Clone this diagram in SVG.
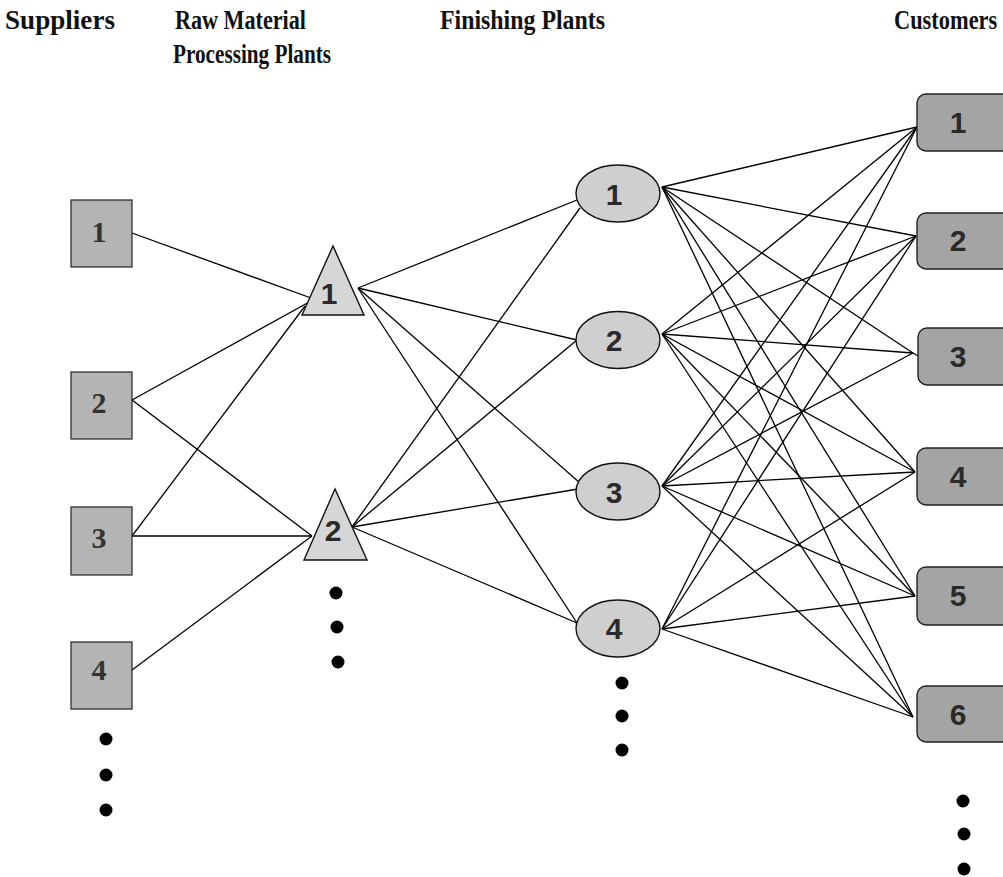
<svg xmlns="http://www.w3.org/2000/svg" width="1003" height="877" viewBox="0 0 1003 877">
<style>
.hdr{font-family:"Liberation Serif","Times New Roman",serif;font-weight:bold;font-size:28px;fill:#111}
.sq{fill:#b4b4b4;stroke:#222;stroke-width:1.2}
.tri{fill:#d6d6d6;stroke:#111;stroke-width:1.4}
.ell{fill:#cfcfcf;stroke:#111;stroke-width:1.4}
.cus{fill:#a4a4a4;stroke:#222;stroke-width:1.4}
.ns{font-family:"Liberation Serif","Times New Roman",serif;font-weight:bold;font-size:30px;fill:#333;text-anchor:middle}
.na{font-family:"Liberation Sans",Arial,sans-serif;font-weight:bold;font-size:30px;fill:#2a2a2a;text-anchor:middle}
.dot{fill:#000}
#connectors line{stroke:#000;stroke-width:1.3}
</style>
<rect width="1003" height="877" fill="#fff"/>
<g id="headers">
<text class="hdr" x="5" y="29" textLength="110" lengthAdjust="spacingAndGlyphs">Suppliers</text>
<text class="hdr" x="175" y="29" textLength="131" lengthAdjust="spacingAndGlyphs">Raw Material</text>
<text class="hdr" x="173" y="63" textLength="158" lengthAdjust="spacingAndGlyphs">Processing Plants</text>
<text class="hdr" x="440" y="29" textLength="165" lengthAdjust="spacingAndGlyphs">Finishing Plants</text>
<text class="hdr" transform="translate(894,29) scale(0.8,1)" x="0" y="0">Customers</text>
</g>
<g id="connectors">
<line x1="132" y1="233" x2="311" y2="298"/>
<line x1="132" y1="400" x2="311" y2="301"/>
<line x1="132" y1="400" x2="312" y2="536"/>
<line x1="132" y1="536" x2="305" y2="306"/>
<line x1="132" y1="536" x2="312" y2="536"/>
<line x1="132" y1="670" x2="312" y2="536"/>
<line x1="358" y1="288" x2="577" y2="200"/>
<line x1="358" y1="288" x2="577" y2="340"/>
<line x1="358" y1="288" x2="580" y2="483"/>
<line x1="358" y1="288" x2="577" y2="623"/>
<line x1="352" y1="527" x2="580" y2="208"/>
<line x1="352" y1="527" x2="577" y2="340"/>
<line x1="352" y1="527" x2="578" y2="489"/>
<line x1="352" y1="527" x2="577" y2="623"/>
<line x1="662" y1="187" x2="917" y2="127"/>
<line x1="662" y1="187" x2="916" y2="236"/>
<line x1="662" y1="187" x2="913" y2="353"/>
<line x1="662" y1="187" x2="915" y2="472"/>
<line x1="662" y1="187" x2="915" y2="596"/>
<line x1="662" y1="187" x2="913" y2="717"/>
<line x1="662" y1="334" x2="917" y2="127"/>
<line x1="662" y1="334" x2="916" y2="236"/>
<line x1="662" y1="334" x2="913" y2="353"/>
<line x1="662" y1="334" x2="915" y2="472"/>
<line x1="662" y1="334" x2="915" y2="596"/>
<line x1="662" y1="334" x2="913" y2="717"/>
<line x1="662" y1="486" x2="917" y2="127"/>
<line x1="662" y1="486" x2="916" y2="236"/>
<line x1="662" y1="486" x2="913" y2="353"/>
<line x1="662" y1="486" x2="915" y2="472"/>
<line x1="662" y1="486" x2="915" y2="596"/>
<line x1="662" y1="486" x2="913" y2="717"/>
<line x1="662" y1="629" x2="917" y2="127"/>
<line x1="662" y1="629" x2="916" y2="236"/>
<line x1="662" y1="629" x2="915" y2="472"/>
<line x1="662" y1="629" x2="915" y2="596"/>
<line x1="662" y1="629" x2="913" y2="717"/>
<line x1="913" y1="353" x2="918" y2="356"/>
</g>
<g id="supplier-1"><rect class="sq" x="71" y="200" width="61" height="67"/><text class="ns" x="99" y="242">1</text></g>
<g id="supplier-2"><rect class="sq" x="71" y="372" width="61" height="67"/><text class="ns" x="99" y="413">2</text></g>
<g id="supplier-3"><rect class="sq" x="71" y="507" width="61" height="68"/><text class="ns" x="99" y="548">3</text></g>
<g id="supplier-4"><rect class="sq" x="71" y="642" width="61" height="67"/><text class="ns" x="99" y="680">4</text></g>
<g id="supplier-more"><circle class="dot" cx="106" cy="739" r="6.5"/><circle class="dot" cx="106" cy="775" r="6.5"/><circle class="dot" cx="106" cy="810" r="6.5"/></g>
<g id="raw-1"><polygon class="tri" points="333,246 302,315 364,315"/><text class="na" x="329" y="304">1</text></g>
<g id="raw-2"><polygon class="tri" points="335,489 304,560 367,560"/><text class="na" x="333" y="541">2</text></g>
<g id="raw-more"><circle class="dot" cx="336" cy="593" r="6.5"/><circle class="dot" cx="337" cy="627" r="6.5"/><circle class="dot" cx="338" cy="662" r="6.5"/></g>
<g id="finish-1"><ellipse class="ell" cx="618" cy="193.5" rx="42" ry="28.5"/><text class="na" x="614" y="205">1</text></g>
<g id="finish-2"><ellipse class="ell" cx="618" cy="340" rx="42" ry="28.5"/><text class="na" x="614" y="351">2</text></g>
<g id="finish-3"><ellipse class="ell" cx="618" cy="491.5" rx="42" ry="28.5"/><text class="na" x="614" y="503">3</text></g>
<g id="finish-4"><ellipse class="ell" cx="618" cy="628.5" rx="42" ry="28.5"/><text class="na" x="614" y="639">4</text></g>
<g id="finish-more"><circle class="dot" cx="622" cy="683" r="6.5"/><circle class="dot" cx="622" cy="716" r="6.5"/><circle class="dot" cx="622" cy="750" r="6.5"/></g>
<g id="customer-1"><rect class="cus" x="917" y="94" width="100" height="57" rx="9"/><text class="na" x="958" y="133">1</text></g>
<g id="customer-2"><rect class="cus" x="917" y="213" width="100" height="56" rx="9"/><text class="na" x="958" y="251">2</text></g>
<g id="customer-3"><rect class="cus" x="918" y="328" width="100" height="57" rx="9"/><text class="na" x="958" y="367">3</text></g>
<g id="customer-4"><rect class="cus" x="917" y="448" width="100" height="57" rx="9"/><text class="na" x="958" y="487">4</text></g>
<g id="customer-5"><rect class="cus" x="917" y="567" width="100" height="58" rx="9"/><text class="na" x="958" y="606">5</text></g>
<g id="customer-6"><rect class="cus" x="917" y="686" width="100" height="56" rx="9"/><text class="na" x="958" y="725">6</text></g>
<g id="customer-more"><circle class="dot" cx="963" cy="801" r="6.5"/><circle class="dot" cx="964" cy="834" r="6.5"/><circle class="dot" cx="964" cy="869" r="6.5"/></g>
</svg>
